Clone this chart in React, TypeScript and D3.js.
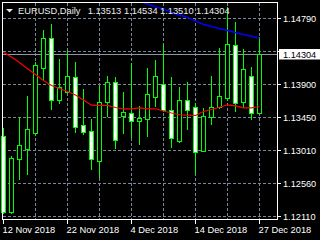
import React from "react";
import * as d3 from "d3";

const dates = [
  "2018-11-12","2018-11-13","2018-11-14","2018-11-15","2018-11-16",
  "2018-11-19","2018-11-20","2018-11-21","2018-11-22","2018-11-23",
  "2018-11-26","2018-11-27","2018-11-28","2018-11-29","2018-11-30",
  "2018-12-03","2018-12-04","2018-12-05","2018-12-06","2018-12-07",
  "2018-12-10","2018-12-11","2018-12-12","2018-12-13","2018-12-14",
  "2018-12-17","2018-12-18","2018-12-19","2018-12-20","2018-12-21",
  "2018-12-24","2018-12-26","2018-12-27",
];

const open = [1.13201, 1.12164, 1.12882, 1.13025, 1.13233, 1.14113, 1.14519, 1.13684, 1.13797, 1.13991, 1.13346, 1.13260, 1.12863, 1.13653, 1.13924, 1.13472, 1.13504, 1.13404, 1.13423, 1.13721, 1.13897, 1.13549, 1.13133, 1.13684, 1.13585, 1.12998, 1.13458, 1.13585, 1.13715, 1.14425, 1.13653, 1.14005, 1.13513];
const high = [1.13309, 1.12930, 1.13450, 1.13742, 1.14198, 1.14632, 1.14713, 1.14239, 1.14351, 1.14198, 1.13833, 1.13423, 1.13874, 1.14009, 1.13995, 1.13792, 1.14181, 1.13603, 1.14117, 1.14226, 1.14438, 1.13995, 1.13860, 1.13928, 1.13640, 1.13572, 1.14009, 1.14384, 1.14943, 1.14740, 1.14370, 1.14127, 1.14534];
const low = [1.12155, 1.12148, 1.12615, 1.12687, 1.13210, 1.13955, 1.13569, 1.13640, 1.13786, 1.13255, 1.13224, 1.12754, 1.12646, 1.13468, 1.13039, 1.13233, 1.13179, 1.13093, 1.13201, 1.13603, 1.13535, 1.13052, 1.13122, 1.13292, 1.12692, 1.12994, 1.13355, 1.13576, 1.13684, 1.13539, 1.13585, 1.13423, 1.13510];
const close = [1.12164, 1.12895, 1.13071, 1.13288, 1.14154, 1.14519, 1.13684, 1.13856, 1.14005, 1.13323, 1.13255, 1.12890, 1.13653, 1.13924, 1.13143, 1.13518, 1.13404, 1.13445, 1.13761, 1.14005, 1.13549, 1.13166, 1.13684, 1.13553, 1.12984, 1.13464, 1.13585, 1.13742, 1.14438, 1.13640, 1.14100, 1.13504, 1.14304];

const maFast = [1.14338, 1.14273, 1.14198, 1.14113, 1.14036, 1.13955, 1.13887, 1.13847, 1.13806, 1.13759, 1.13691, 1.13621, 1.13617, 1.13617, 1.13589, 1.13572, 1.13572, 1.13585, 1.13572, 1.13572, 1.13542, 1.13515, 1.13491, 1.13485, 1.13481, 1.13535, 1.13562, 1.13593, 1.13626, 1.13612, 1.13585, 1.13585, 1.13603];
const maSlow: (number | null)[] = [null, null, null, null, null, null, null, null, null, null, null, null, null, null, null, null, 1.15058, 1.15024, 1.14990, 1.14952, 1.14923, 1.14875, 1.14841, 1.14808, 1.14763, 1.14713, 1.14686, 1.14659, 1.14632, 1.14605, 1.14577, 1.14554, 1.14530];

const priceTicks = [1.12110, 1.12560, 1.13010, 1.13450, 1.13900, 1.14350, 1.14790];
const hiddenTicks = [1.14350]; // label covered by the bid price box
const dateTicks = ["2018-11-12", "2018-11-22", "2018-12-04", "2018-12-14", "2018-12-27"];
const gridDates = ["2018-11-16", "2018-11-22", "2018-11-28", "2018-12-04", "2018-12-10", "2018-12-14", "2018-12-20", "2018-12-27"];
const symbol = "EURUSD,Daily";
const lastBar = [1.13513, 1.14534, 1.13510, 1.14304];
const bid = 1.14304;

const FONT = "'Liberation Sans', Arial, sans-serif";

export default function App() {
  const x = d3.scalePoint<string>().domain(dates).range([3, 259]);
  const y = d3.scaleLinear().domain([1.1211, 1.1479]).range([216.3, 18.3]);
  const col = (d: string) => Math.round(x(d) as number);
  const row = (v: number) => Math.round(y(v));
  const parse = d3.timeParse("%Y-%m-%d");
  const fmt = d3.timeFormat("%-d %b %Y");
  const fmtP = (v: number) => v.toFixed(5);

  const fastLine = d3
    .line<number>()
    .x((_, i) => (x(dates[i]) as number) + 0.5)
    .y((v) => y(v) + 0.5);
  const slowLine = d3
    .line<number | null>()
    .defined((v) => v != null)
    .x((_, i) => (x(dates[i]) as number) + 0.5)
    .y((v) => y(v as number) + 0.5);

  const grid = "#778899";
  const green = "#00ff00";

  return (
    <svg
      width={320}
      height={240}
      style={{ position: "fixed", left: 0, top: 0, display: "block" }}
    >
      <defs>
        <clipPath id="plot">
          <rect x={3} y={3} width={274} height={216} />
        </clipPath>
      </defs>
      <rect x={0} y={0} width={320} height={240} fill="#000" />

      {/* grid */}
      <g stroke={grid} strokeWidth={1} strokeDasharray="3,2" shapeRendering="crispEdges">
        {priceTicks.map((p) => (
          <line key={p} x1={3} x2={277} y1={row(p) + 0.5} y2={row(p) + 0.5} />
        ))}
        {gridDates.map((d) => (
          <line key={d} x1={col(d) + 0.5} x2={col(d) + 0.5} y1={3} y2={219} />
        ))}
      </g>
      {/* bid line */}
      <line x1={3} x2={277} y1={row(bid) + 0.5} y2={row(bid) + 0.5} stroke="#8a97a6" strokeWidth={1} shapeRendering="crispEdges" />

      {/* candles */}
      <g shapeRendering="crispEdges">
        {dates.map((d, i) => {
          const c = col(d);
          const o = row(open[i]);
          const cl = row(close[i]);
          const top = Math.min(o, cl);
          const bot = Math.max(o, cl);
          const bear = close[i] < open[i];
          return (
            <g key={d}>
              <line x1={c + 0.5} x2={c + 0.5} y1={row(high[i])} y2={row(low[i]) + 1} stroke={green} strokeWidth={1} />
              <rect x={c - 1.5} y={top + 0.5} width={4} height={Math.max(bot - top, 0.01)} fill={bear ? "#fff" : "#000"} stroke={green} strokeWidth={1} />
            </g>
          );
        })}
      </g>

      {/* moving averages */}
      <g clipPath="url(#plot)">
        <path d={fastLine(maFast) || ""} fill="none" stroke="#ff0000" strokeWidth={1.2} />
        <path d={slowLine(maSlow) || ""} fill="none" stroke="#0000ff" strokeWidth={1.4} />
      </g>

      {/* frame */}
      <rect x={2.5} y={2.5} width={275} height={217} fill="none" stroke="#fff" strokeWidth={1} shapeRendering="crispEdges" />

      {/* right axis */}
      <g fontFamily={FONT} fontSize={9.2} fill="#fff">
        {priceTicks.map((p) => (
          <g key={p}>
            <line x1={277} x2={281} y1={row(p) + 0.5} y2={row(p) + 0.5} stroke="#fff" shapeRendering="crispEdges" />
            {hiddenTicks.includes(p) ? null : (
              <text x={283} y={row(p) + 3.8}>{fmtP(p)}</text>
            )}
          </g>
        ))}
        <rect x={279} y={49} width={41} height={10.5} fill="#fff" />
        <text x={283} y={row(bid) + 3.5} fill="#000">{fmtP(bid)}</text>
      </g>

      {/* bottom axis */}
      <g fontFamily={FONT} fontSize={9.3} fill="#fff">
        {dateTicks.map((d) => (
          <g key={d}>
            <line x1={col(d) + 0.5} x2={col(d) + 0.5} y1={220} y2={224} stroke="#fff" shapeRendering="crispEdges" />
            <text x={col(d) - 0.5} y={232.5}>{fmt(parse(d) as Date)}</text>
          </g>
        ))}
      </g>

      {/* title */}
      <path d="M6,9 L13,9 L9.5,12.5 Z" fill="#e6e6e6" />
      <g fontFamily={FONT} fontSize={9.3} fill="#ececec">
        <text x={18} y={14}>{symbol}</text>
        {lastBar.map((v, i) => (
          <text key={i} x={[87.7, 124, 160, 196][i]} y={14}>{fmtP(v)}</text>
        ))}
      </g>
    </svg>
  );
}
